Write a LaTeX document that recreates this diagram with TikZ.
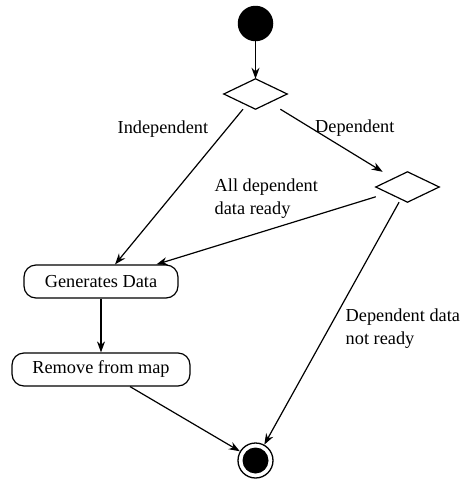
\documentclass[tikz,border=0pt]{standalone}
\usepackage{fontspec}
\setmainfont{Liberation Serif}
\usetikzlibrary{arrows.meta}
\begin{document}
\begin{tikzpicture}[x=1pt,y=-1pt,
  every node/.style={font=\fontsize{18.3}{23}\selectfont},
  flow/.style={line width=1.2pt,-{Stealth[length=11pt,width=8pt,inset=3.5pt]}},
  activity/.style={draw,line width=1.2pt,rounded corners=12pt,minimum height=33pt,inner sep=0pt},
  choice/.style={minimum width=63pt,minimum height=30pt,inner sep=0pt},
  lbl/.style={align=left,inner sep=0pt,anchor=west}]
\useasboundingbox (0,0) rectangle (462,480);

% start and end states
\node[circle,fill=black,minimum size=35.5pt,inner sep=0pt] (start) at (255.5,23.5) {};
\node[circle,draw,line width=1.3pt,minimum size=35pt,inner sep=0pt] (stop) at (255.5,460.5) {};
\fill (stop.center) circle[radius=13pt];

% decision points (bounding boxes; the diamond is drawn on their anchors)
\node[choice] (d1) at (255.5,94) {};
\node[choice] (d2) at (407.5,187) {};
\foreach \d in {d1,d2}
  \draw[line width=1.2pt] (\d.west)--(\d.north)--(\d.east)--(\d.south)--cycle;

% activities
\node[activity,minimum width=154pt] (gen) at (101,281.5) {Generates Data};
\node[activity,minimum width=178pt] (rem) at (101,369.5) {Remove from map};

% transitions
\draw[flow] (start) -- (d1);
\draw[flow] (d1) -- (gen);
\draw[flow] (d1) -- (d2);
\draw[flow] (d2) -- (gen);
\draw[flow] (d2) -- (stop);
\draw[flow] (gen) -- (rem);
\draw[flow] (rem) -- (stop);

% guards
\node[lbl] (gIndep) at (117.5,129) {Independent};
\node[lbl] (gDep) at (315,128) {Dependent};
\node[lbl] (gReady) at (214.5,198.5) {All dependent\\data ready};
\node[lbl] (gNot) at (345.5,328.5) {Dependent data\\not ready};
\end{tikzpicture}
\end{document}
